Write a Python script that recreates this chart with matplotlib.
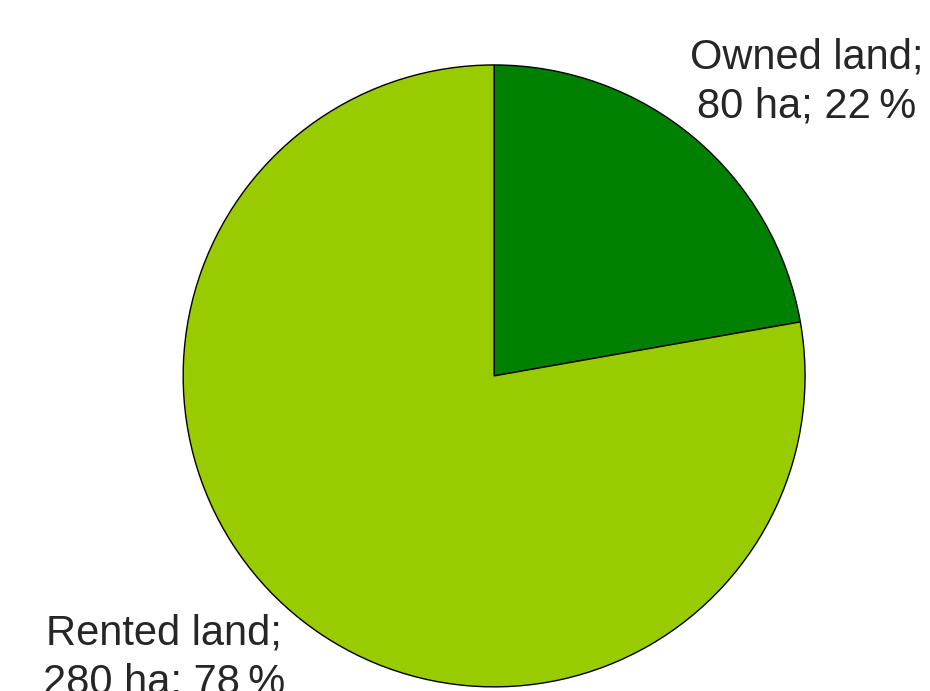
import matplotlib
matplotlib.use("Agg")
import matplotlib.pyplot as plt

categories = ["Owned land", "Rented land"]
hectares = [80, 280]
percents = [22, 78]
colors = ["#008000", "#99CC00"]

fig = plt.figure(figsize=(9.3, 6.91), dpi=100)
ax = fig.add_axes([0.1968, 0.006, 0.669, 0.9])
ax.pie(hectares, colors=colors, startangle=90, counterclock=False,
       wedgeprops=dict(edgecolor="black", linewidth=1.0), radius=1.0)
ax.set_xlim(-1, 1)
ax.set_ylim(-1, 1)
ax.set_aspect("equal")
ax.axis("off")

label_pos = [(807 / 930, 1 - 82 / 691), (164 / 930, 1 - 658 / 691)]
for name, ha, pct, (x, y) in zip(categories, hectares, percents, label_pos):
    fig.text(x, y, f"{name};\n{ha} ha; {pct}\u2009%", ha="center", va="center",
             fontsize=30, color="#262626", linespacing=1.27,
             family=["Liberation Sans", "DejaVu Sans"])

fig.savefig("out.png", dpi=100)
